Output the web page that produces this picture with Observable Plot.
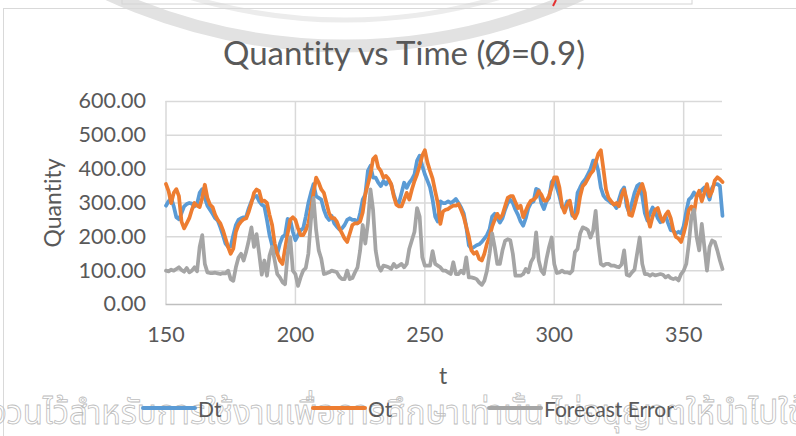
<!DOCTYPE html>
<html><head><meta charset="utf-8">
<script src="https://cdn.jsdelivr.net/npm/d3@7"></script>
<script src="https://cdn.jsdelivr.net/npm/@observablehq/plot@0.6"></script>
<style>
html,body{margin:0;padding:0;background:#fff;}
#wrap{position:relative;width:796px;height:436px;overflow:hidden;font-family:Lato,"Open Sans",sans-serif;color:#595959;font-variant-ligatures:none;}
#wrap > *{position:absolute;}
svg text{font-variant-ligatures:none;}
</style></head><body><div id="wrap"></div>
<script>
const tStart = 150;
const Dt = [
292,305,315,290,258,252,270,290,297,300,
298,290,297,330,341,315,292,280,268,255,
248,228,205,180,170,172,205,235,250,255,
258,260,285,305,318,321,305,295,290,250,
205,175,160,150,180,200,205,253,250,215,
190,205,220,225,260,300,330,356,320,315,
310,280,260,250,262,240,230,222,225,235,
250,255,250,250,240,270,310,325,395,410,
375,375,360,350,365,355,366,355,325,302,
300,330,360,345,360,370,385,425,440,410,
385,366,346,310,260,245,305,300,300,305,
300,305,312,300,287,270,230,175,165,170,
175,178,185,195,205,222,260,268,255,242,
255,280,300,310,300,280,265,245,233,255,
285,300,305,342,338,300,282,305,315,362,
371,345,320,288,283,305,295,262,262,330,
346,361,370,385,400,425,425,395,345,322,
312,307,300,297,285,310,335,346,290,270,
300,330,350,356,320,270,248,270,287,275,
255,243,250,262,240,220,218,210,215,210,
232,275,310,317,331,320,330,338,346,330,
310,345,356,356,350,262];
const Ot = [
356,335,300,330,341,320,245,225,240,255,
280,300,292,288,315,354,315,295,288,265,
250,240,220,195,170,150,165,215,235,245,
252,255,275,300,330,340,335,305,307,300,
265,235,180,150,130,120,165,210,250,258,
250,225,205,205,220,240,285,330,375,360,
340,330,300,270,255,255,245,225,210,195,
185,210,235,240,240,245,272,326,355,385,
430,438,405,395,375,380,371,356,320,295,
290,290,310,330,310,340,365,385,410,440,
456,420,395,372,335,300,238,275,280,282,
288,292,292,297,280,260,230,200,160,150,
155,135,130,150,180,200,230,250,268,255,
265,290,315,320,320,302,285,292,258,277,
295,307,310,317,335,325,307,307,321,346,
376,376,346,292,272,295,307,268,255,272,
320,350,358,372,386,395,420,445,456,400,
340,315,305,295,300,290,320,340,310,265,
262,290,320,340,356,330,260,230,260,280,
285,260,245,265,275,255,220,200,195,185,
210,240,280,290,270,320,336,305,330,356,
320,335,366,376,370,362];
const ForecastError = [
100,98,103,100,105,110,102,97,108,95,
100,110,98,170,205,120,95,93,93,94,
92,90,93,92,100,75,70,110,139,150,
130,157,190,228,170,208,150,88,130,85,
145,170,130,90,80,66,60,150,199,100,
90,55,80,100,108,150,250,315,220,160,
135,90,92,95,100,98,95,82,75,75,
100,75,78,95,110,160,235,180,240,340,
280,160,115,100,115,113,110,105,120,110,
115,120,110,120,165,190,215,285,260,140,
115,115,115,158,120,115,110,100,100,95,
90,125,90,90,100,92,139,80,80,78,
75,65,58,70,100,150,210,170,120,120,
160,188,193,190,150,85,85,85,90,105,
95,125,139,213,130,100,90,135,170,198,
120,93,95,100,95,95,92,100,155,164,
210,228,225,220,198,218,277,180,120,115,
120,120,115,115,112,110,118,160,88,85,
95,103,150,198,120,90,90,85,90,86,
88,90,88,80,85,78,75,78,71,90,
100,120,180,260,280,200,160,238,170,100,
170,189,185,160,130,105];

const seriesNames = ["Dt", "Ot", "Forecast Error"];
const seriesColors = ["#5B9BD5", "#ED7D31", "#A5A5A5"];
const yTicks = [0, 100, 200, 300, 400, 500, 600];
const xTicks = [150, 200, 250, 300, 350];
const titleText = "Quantity vs Time (Ø=0.9)";
const yTitle = "Quantity";
const xTitle = "t";
const watermark = "สงวนไว้สำหรับการใช้งานเพื่อการศึกษาเท่านั้น ไม่อนุญาตให้นำไปใช้";

const rows = [];
[Dt, Ot, ForecastError].forEach((arr, k) =>
  arr.forEach((v, i) => rows.push({t: tStart + i, v, s: seriesNames[k]})));

const wrap = document.getElementById("wrap");

// decorative background (watermark logo + chart border)
const NS = "http://www.w3.org/2000/svg";
const bg = document.createElementNS(NS, "svg");
bg.setAttribute("width", 796); bg.setAttribute("height", 436);
bg.style.left = "0px"; bg.style.top = "0px";
bg.innerHTML = `
 <circle cx="345" cy="-520" r="566" fill="none" stroke="#e2e2e2" stroke-width="13"/>
 <circle cx="345" cy="-520" r="540" fill="none" stroke="#ececec" stroke-width="5"/>
 <rect x="122" y="-10" width="570" height="14" fill="none" stroke="#d4d4d4" stroke-width="1"/>
 <line x1="556" y1="0" x2="553" y2="6" stroke="#e53030" stroke-width="2"/>
 <rect x="3.5" y="8.5" width="820" height="460" fill="none" stroke="#d9d9d9" stroke-width="1"/>`;
wrap.appendChild(bg);

const chart = Plot.plot({
  width: 796, height: 436,
  marginLeft: 165.5, marginRight: 74, marginTop: 101, marginBottom: 132,
  style: {background: "transparent", fontFamily: "Lato, 'Open Sans', sans-serif", fontSize: "21px", color: "#595959"},
  x: {domain: [150, 365], label: null},
  y: {domain: [0, 600], label: null},
  color: {domain: seriesNames, range: seriesColors},
  marks: [
    Plot.gridY({ticks: yTicks.filter(d => d > 0), stroke: "#d9d9d9", strokeOpacity: 1, strokeWidth: 1.5}),
    Plot.gridX({ticks: xTicks, stroke: "#d9d9d9", strokeOpacity: 1, strokeWidth: 1.5}),
    Plot.ruleY([0], {stroke: "#bfbfbf", strokeWidth: 1.5}),
    Plot.axisY({ticks: yTicks, tickSize: 0, tickPadding: 20, tickFormat: d => d.toFixed(2), label: null, fontSize: 21.5}),
    Plot.axisX({ticks: xTicks, tickSize: 0, tickPadding: 22, label: null, fontSize: 21.5}),
    Plot.line(rows, {x: "t", y: "v", z: "s", stroke: "s", strokeWidth: 3.75, strokeLinejoin: "round", strokeLinecap: "round"})
  ]
});
chart.style.left = "0px"; chart.style.top = "0px";
wrap.appendChild(chart);

function addDiv(text, css) {
  const d = document.createElement("div");
  d.textContent = text;
  d.style.cssText = "position:absolute;white-space:nowrap;line-height:1;" + css;
  wrap.appendChild(d);
  return d;
}
addDiv(titleText, "left:404px;top:52px;transform:translate(-50%,-50%);font-size:33px;");
addDiv(yTitle, "left:52px;top:203px;transform:translate(-50%,-50%) rotate(-90deg);font-size:23px;");
addDiv(xTitle, "left:443px;top:375px;transform:translate(-50%,-50%);font-size:23px;");

// watermark text (outlined, light)
const wm = document.createElementNS(NS, "svg");
wm.setAttribute("width", 796); wm.setAttribute("height", 436);
wm.style.left = "0px"; wm.style.top = "0px";
const wt = document.createElementNS(NS, "text");
wt.setAttribute("x", -30); wt.setAttribute("y", 424);
wt.setAttribute("font-size", 33);
wt.setAttribute("font-family", "'Noto Sans Thai','Noto Sans',sans-serif");
wt.setAttribute("fill", "none"); wt.setAttribute("stroke", "#bdbdbd"); wt.setAttribute("stroke-width", 0.8);
wt.textContent = watermark;
wm.appendChild(wt);
wrap.appendChild(wm);

// legend
const legendX = [143, 313, 489];
seriesNames.forEach((name, k) => {
  const ls = document.createElementNS(NS, "svg");
  ls.setAttribute("width", 56); ls.setAttribute("height", 10);
  ls.style.left = (legendX[k] - 2) + "px"; ls.style.top = "403px";
  ls.innerHTML = `<line x1="2" y1="5" x2="54" y2="5" stroke="${seriesColors[k]}" stroke-width="4" stroke-linecap="round"/>`;
  wrap.appendChild(ls);
  addDiv(name, `left:${legendX[k] + 55}px;top:408px;transform:translateY(-50%);font-size:21px;`);
});
</script>
</body></html>
